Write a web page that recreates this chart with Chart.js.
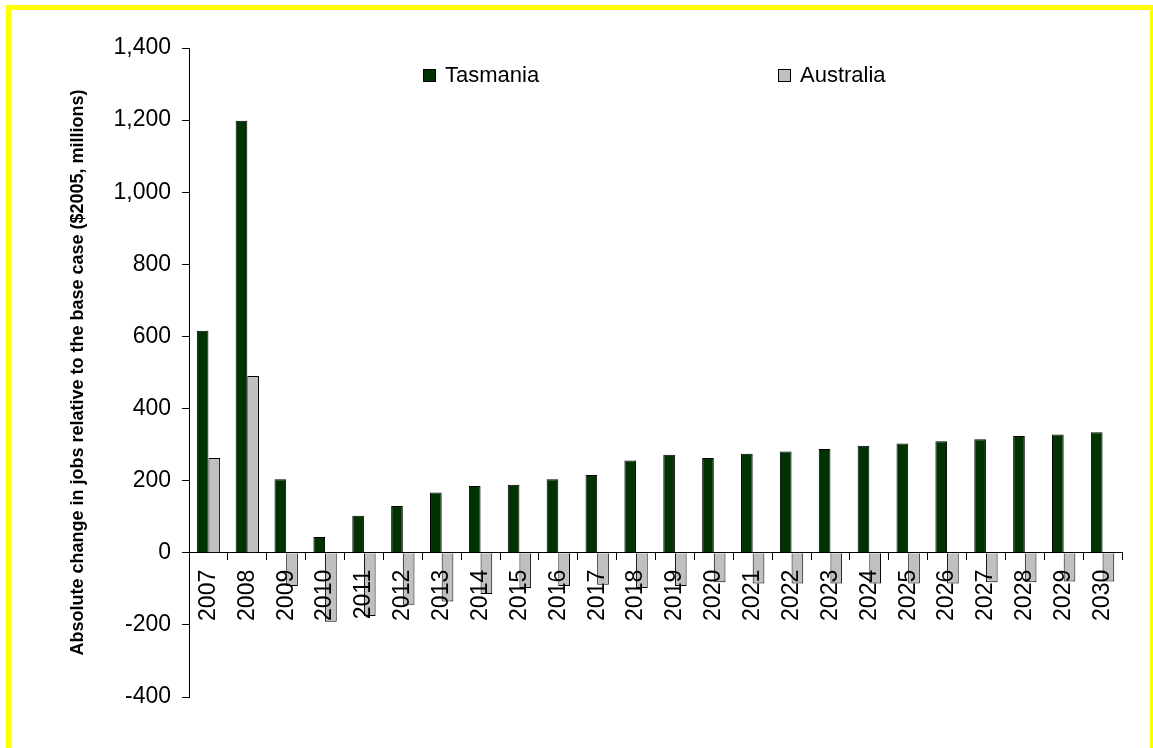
<!DOCTYPE html>
<html>
<head>
<meta charset="utf-8">
<script src="https://cdn.jsdelivr.net/npm/chart.js@4"></script>
<style>
  html, body { margin: 0; padding: 0; background: #fff; overflow: hidden; }
  #frame {
    position: absolute;
    left: 6px;
    top: 5px;
    width: 1139px;
    height: 800px;
    border: 5px solid #ffff00;
  }
  #jobs { position: absolute; left: 0; top: 0; }
</style>
</head>
<body>
<div id="frame"></div>
<canvas id="jobs" width="1153" height="748"></canvas>
<script>
const years = [
  "2007", "2008", "2009", "2010", "2011", "2012", "2013", "2014",
  "2015", "2016", "2017", "2018", "2019", "2020", "2021", "2022",
  "2023", "2024", "2025", "2026", "2027", "2028", "2029", "2030",
];

// $2005, millions
const tasmania = [
  616, 1198, 204, 44, 103, 130, 167, 185, 189, 204, 216, 256,
  272, 263, 275, 281, 288, 297, 303, 309, 315, 324, 328, 334,
];
const australia = [
  263, 490, -92, -191, -175, -144, -135, -114, -98, -92, -89, -98,
  -92, -82, -85, -85, -85, -85, -85, -85, -82, -82, -80, -80,
];

const yTicks = { min: -400, max: 1400, step: 200 };

const fontFamily = "'Liberation Sans', Arial, sans-serif";

// legend sits inside the plot, two items spread apart
const insideLegend = {
  id: "insideLegend",
  afterDraw: (chart) => {
    const ctx = chart.ctx;
    const area = chart.chartArea;
    const offsets = [234, 589];
    ctx.save();
    ctx.font = "22px " + fontFamily;
    ctx.textBaseline = "middle";
    chart.data.datasets.forEach((ds, i) => {
      const x = area.left + offsets[i];
      const y = area.top + 21;
      ctx.fillStyle = ds.backgroundColor;
      ctx.fillRect(x + 0.5, y + 0.5, 12, 12);
      ctx.strokeStyle = "#000";
      ctx.lineWidth = 1;
      ctx.strokeRect(x + 0.5, y + 0.5, 12, 12);
      ctx.fillStyle = "#000";
      ctx.fillText(ds.label, x + 22, y + 7);
    });
    ctx.restore();
  },
};

const data = {
  labels: years,
  datasets: [
    {
      label: "Tasmania",
      data: tasmania,
      backgroundColor: "#003300",
      borderColor: "#000",
      borderWidth: 1,
    },
    {
      label: "Australia",
      data: australia,
      backgroundColor: "#c0c0c0",
      borderColor: "#000",
      borderWidth: 1,
    },
  ],
};

const config = {
  type: "bar",
  data: data,
  plugins: [insideLegend],
  options: {
    responsive: false,
    animation: false,
    devicePixelRatio: 1,
    layout: {
      padding: { left: 0, right: 31, top: 48, bottom: 51 },
    },
    datasets: {
      bar: {
        categoryPercentage: 0.6,
        barPercentage: 1.0,
      },
    },
    plugins: {
      legend: { display: false },
      tooltip: { enabled: false },
    },
    scales: {
      x: {
        position: { y: 0 },
        offset: true,
        grid: {
          offset: true,
          drawOnChartArea: false,
          drawTicks: true,
          tickLength: 7,
          color: "#000",
        },
        border: { color: "#000", width: 1 },
        ticks: {
          z: 1, // year labels go over the negative bars
          minRotation: 90,
          maxRotation: 90,
          autoSkip: false,
          padding: 10,
          color: "#000",
          font: { family: fontFamily, size: 23 },
        },
      },
      y: {
        min: yTicks.min,
        max: yTicks.max,
        afterFit: (scale) => {
          scale.width = 189;
        },
        grid: {
          drawOnChartArea: false,
          drawTicks: true,
          tickLength: 7,
          color: "#000",
        },
        border: { color: "#000", width: 1 },
        ticks: {
          stepSize: yTicks.step,
          padding: 11,
          color: "#000",
          font: { family: fontFamily, size: 23 },
          callback: (v) => v.toLocaleString("en-US"),
        },
        title: {
          display: true,
          text: "Absolute change in jobs relative to the base case ($2005, millions)",
          color: "#000",
          padding: { top: 67, bottom: 0 },
          font: { family: fontFamily, size: 18, weight: "bold" },
        },
      },
    },
  },
};

const myChart = new Chart(document.getElementById("jobs"), config);
</script>
</body>
</html>
